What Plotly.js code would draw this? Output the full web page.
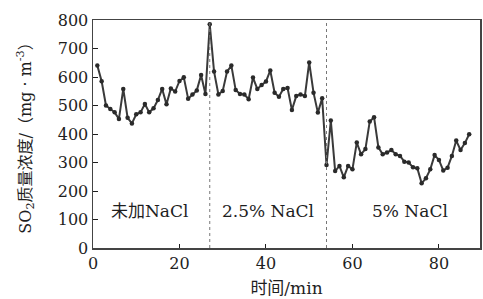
<!DOCTYPE html>
<html>
<head>
<meta charset="utf-8">
<script src="https://cdn.plot.ly/plotly-3.0.1.min.js"></script>
<style>html,body{margin:0;padding:0;background:#fff;}#chart{width:483px;height:299px;}</style>
</head>
<body>
<div id="chart"></div>
<script>
const timeMin = [1,2,3,4,5,6,7,8,9,10,11,12,13,14,15,16,17,18,19,20,21,22,23,24,25,26,27,
  28,29,30,31,32,33,34,35,36,37,38,39,40,41,42,43,44,45,46,47,48,49,50,51,52,53,
  54,55,56,57,58,59,60,61,62,63,64,65,66,67,68,69,70,71,72,73,74,75,76,77,78,79,80,81,82,83,84,85,86,87];
const so2 = [640,585,500,488,476,453,558,457,437,469,476,505,476,490,519,558,504,560,549,586,599,524,539,553,607,540,785,
  619,539,551,619,640,554,540,539,522,598,558,572,584,623,545,531,558,561,484,533,539,533,651,545,475,525,
  291,447,270,288,248,288,276,370,329,347,444,459,353,329,335,344,329,323,303,300,283,280,227,245,276,326,309,272,282,323,377,344,368,399];
const dividers = [27, 54];
const regionLabels = ["未加NaCl", "2.5% NaCl", "5% NaCl"];
const regionX = [13.1, 40.4, 73.2];
const regionY = [130, 130, 130];
const xTicks = [0,20,40,60,80];
const yTicks = [0,100,200,300,400,500,600,700,800];

const FONT = "'DejaVu Serif', 'Noto Sans CJK SC', serif";
const INK = "#1e1e1e";

const shapes = dividers.map(d => ({
  type: 'line', xref: 'x', yref: 'paper', x0: d, x1: d, y0: 0, y1: 1,
  line: {color: '#777', width: 1, dash: 'dot'}
}));
const annotations = regionLabels.map((t, i) => ({
  text: t, x: regionX[i], y: regionY[i], xref: 'x', yref: 'y', showarrow: false,
  font: {family: FONT, size: 17, color: INK}
}));

Plotly.newPlot('chart', [{
  x: timeMin, y: so2, type: 'scatter', mode: 'lines+markers',
  line: {color: '#3a3a3a', width: 2},
  marker: {color: '#2a2a2a', size: 4.5}
}], {
  width: 483, height: 299,
  margin: {l: 93, r: 3, t: 20, b: 51},
  paper_bgcolor: '#fff', plot_bgcolor: '#fff',
  showlegend: false,
  font: {family: FONT, color: INK, size: 16},
  xaxis: {
    range: [0, 89.5], tickvals: xTicks, ticks: 'inside', ticklen: 4, tickcolor: INK,
    showgrid: false, zeroline: false, showline: true, linecolor: '#444', linewidth: 1.5, mirror: true,
    tickfont: {family: FONT, size: 16, color: INK},
    title: {text: '时间/min', font: {family: FONT, size: 17, color: INK}, standoff: 10}
  },
  yaxis: {
    range: [0, 800], tickvals: yTicks, ticks: 'inside', ticklen: 5, tickcolor: INK,
    showgrid: false, zeroline: false, showline: true, linecolor: '#444', linewidth: 1.5, mirror: true,
    tickfont: {family: FONT, size: 16, color: INK},
    title: {text: 'SO<sub>2</sub>质量浓度/（mg · m<sup>-3</sup>）', font: {family: FONT, size: 16, color: INK}, standoff: 22}
  },
  shapes: shapes,
  annotations: annotations
}, {displayModeBar: false, staticPlot: true});
</script>
</body>
</html>
